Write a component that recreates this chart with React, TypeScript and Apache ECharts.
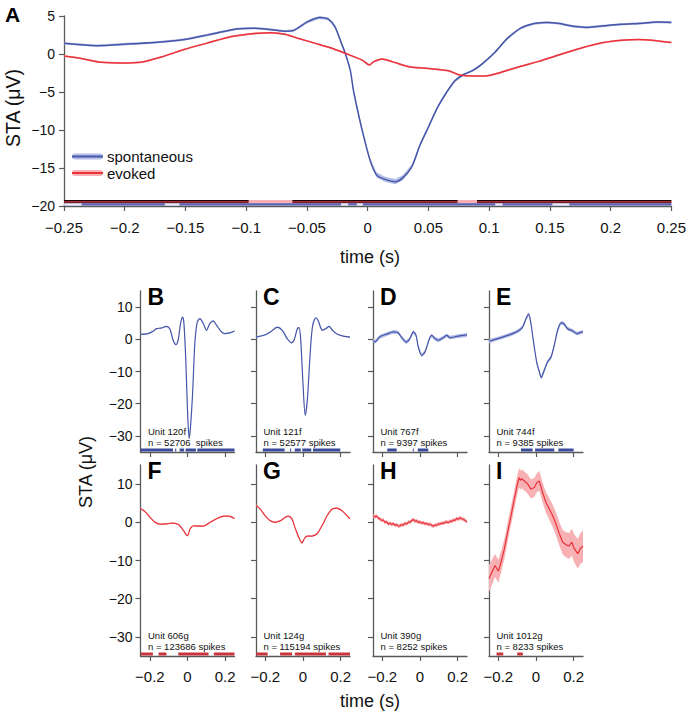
import React, { useEffect, useRef } from 'react';
import * as echarts from 'echarts';

// ---------- data (t in s, STA in µV, sem in µV) ----------
const SPONT_A = [
  [-0.25, 1.4, 0.15], [-0.223, 1.1, 0.15], [-0.194, 1.35, 0.15], [-0.176, 1.5, 0.15], [-0.151, 1.9, 0.15],
  [-0.129, 2.6, 0.15], [-0.108, 3.3, 0.15], [-0.0935, 3.4, 0.15], [-0.079, 3.2, 0.15], [-0.068, 3.0, 0.15],
  [-0.061, 3.1, 0.15], [-0.05, 4.2, 0.2], [-0.0396, 4.8, 0.2], [-0.0324, 4.6, 0.2], [-0.027, 3.6, 0.2],
  [-0.0216, 1.4, 0.2], [-0.0185, 0.1, 0.2], [-0.0144, -2.1, 0.2], [-0.0115, -5.0, 0.25], [-0.0046, -10.0, 0.25],
  [0.0018, -13.9, 0.3], [0.0072, -15.9, 0.35], [0.0144, -16.5, 0.35], [0.0227, -16.8, 0.35], [0.0288, -16.3, 0.35],
  [0.0364, -14.8, 0.3], [0.043, -12.0, 0.25], [0.05, -9.6, 0.25], [0.0576, -7.0, 0.2], [0.0647, -5.1, 0.2],
  [0.072, -3.5, 0.2], [0.079, -2.7, 0.15], [0.0863, -2.2, 0.15], [0.0935, -1.4, 0.15], [0.104, 0.1, 0.15],
  [0.115, 2.05, 0.15], [0.126, 3.4, 0.15], [0.137, 4.0, 0.15], [0.1475, 4.15, 0.15], [0.158, 4.0, 0.15],
  [0.169, 3.65, 0.15], [0.18, 3.5, 0.15], [0.1906, 3.65, 0.15], [0.2086, 3.9, 0.15], [0.2266, 4.05, 0.15],
  [0.2374, 4.2, 0.15], [0.25, 4.15, 0.15],
];
const EVOKED_A = [
  [-0.25, -0.25, 0.12], [-0.237, -0.55, 0.12], [-0.219, -1.1, 0.12], [-0.201, -1.2, 0.12], [-0.187, -1.1, 0.12],
  [-0.169, -0.35, 0.12], [-0.151, 0.6, 0.12], [-0.133, 1.4, 0.12], [-0.112, 2.3, 0.12], [-0.0935, 2.7, 0.12],
  [-0.079, 2.8, 0.12], [-0.068, 2.6, 0.12], [-0.057, 2.05, 0.12], [-0.043, 1.4, 0.12], [-0.032, 0.88, 0.12],
  [-0.0185, 0.09, 0.12], [-0.0046, -0.8, 0.12], [0.0014, -1.45, 0.12], [0.005, -1.0, 0.12], [0.0118, -0.66, 0.12],
  [0.02, -1.0, 0.12], [0.0336, -1.67, 0.12], [0.05, -1.9, 0.12], [0.0665, -2.2, 0.12], [0.0755, -2.75, 0.12],
  [0.0863, -2.9, 0.12], [0.097, -2.9, 0.12], [0.108, -2.5, 0.12], [0.122, -1.8, 0.12], [0.14, -1.0, 0.12],
  [0.158, -0.1, 0.12], [0.176, 0.8, 0.12], [0.194, 1.5, 0.12], [0.2086, 1.8, 0.12], [0.223, 1.9, 0.12],
  [0.237, 1.75, 0.12], [0.25, 1.5, 0.12],
];
// significance segments of panel A
const SPONT_SIG_A = [[-0.2355, -0.167], [-0.155, -0.022], [-0.016, -0.009], [-0.004, 0.105], [0.111, 0.152], [0.166, 0.25]];
const EVOKED_SIG_A = [[-0.25, -0.098], [-0.062, 0.074], [0.09, 0.25]];

const STA_B = [
  [-0.25, 1.55, 0.2], [-0.21, 1.75, 0.2], [-0.183, 2.5, 0.2], [-0.165, 3.3, 0.2], [-0.139, 3.5, 0.2], [-0.112, 4.0, 0.2],
  [-0.094, 3.3, 0.2], [-0.0765, -0.3, 0.2], [-0.062, -1.65, 0.2], [-0.05, -0.3, 0.2], [-0.037, 4.9, 0.2], [-0.027, 6.9, 0.2],
  [-0.0196, 5.4, 0.2], [-0.009, -6.5, 0.2], [0, -22, 0.2], [0.009, -30.8, 0.2], [0.016, -27.2, 0.2], [0.027, -16.9, 0.2],
  [0.039, -1.3, 0.2], [0.052, 5.4, 0.2], [0.066, 6.4, 0.2], [0.084, 4.9, 0.2], [0.101, 2.8, 0.2], [0.119, 4.9, 0.2],
  [0.137, 5.7, 0.2], [0.155, 4.3, 0.2], [0.181, 2.3, 0.2], [0.199, 1.75, 0.2], [0.226, 2.0, 0.2], [0.25, 2.6, 0.2],
];
const STA_C = [
  [-0.25, 0.7, 0.2], [-0.208, 1.25, 0.2], [-0.173, 2.3, 0.2], [-0.137, 3.8, 0.2], [-0.11, 2.8, 0.2], [-0.084, 0.2, 0.2],
  [-0.062, -1.1, 0.2], [-0.048, -0.3, 0.2], [-0.03, 3.3, 0.2], [-0.021, 3.6, 0.2], [-0.012, -0.3, 0.2], [0, -13.8, 0.2],
  [0.012, -23.6, 0.2], [0.023, -18.9, 0.2], [0.036, -6.5, 0.2], [0.05, 3.8, 0.2], [0.068, 6.7, 0.2], [0.08, 5.9, 0.2],
  [0.103, 2.8, 0.2], [0.121, 3.3, 0.2], [0.139, 4.0, 0.2], [0.157, 2.8, 0.2], [0.183, 1.55, 0.2], [0.219, 0.9, 0.2],
  [0.25, 0.7, 0.2],
];
const STA_D = [
  [-0.25, -0.3, 0.6], [-0.24, -0.8, 0.6], [-0.213, 0.8, 0.6], [-0.177, 1.6, 0.6], [-0.142, 2.3, 0.6], [-0.124, 2.2, 0.6],
  [-0.115, 2.0, 0.6], [-0.097, 0.5, 0.6], [-0.074, -0.9, 0.6], [-0.057, -0.1, 0.6], [-0.035, 2.3, 0.6], [-0.021, 1.2, 0.6],
  [-0.009, -2.4, 0.6], [0.009, -5.0, 0.6], [0.027, -3.9, 0.6], [0.05, 0.2, 0.6], [0.062, 1.2, 0.6], [0.08, 0.2, 0.6],
  [0.097, -0.3, 0.6], [0.124, 0.5, 0.6], [0.142, 1.2, 0.6], [0.16, 0.5, 0.6], [0.195, 0.9, 0.6], [0.25, 1.35, 0.6],
];
const STA_E = [
  [-0.25, -0.6, 0.6], [-0.222, -0.1, 0.6], [-0.186, 0.5, 0.6], [-0.151, 1.2, 0.6], [-0.115, 2.0, 0.6], [-0.089, 2.8, 0.6],
  [-0.071, 3.8, 0.6], [-0.053, 6.4, 0.6], [-0.039, 7.8, 0.6], [-0.027, 4.9, 0.6], [-0.012, -1.3, 0.6], [0.005, -7.5, 0.6],
  [0.018, -10.1, 0.6], [0.028, -11.9, 0.6], [0.044, -9.6, 0.6], [0.062, -7.0, 0.6], [0.08, -5.5, 0.6], [0.097, -1.9, 0.6],
  [0.115, 2.8, 0.6], [0.133, 5.1, 0.6], [0.147, 4.9, 0.6], [0.168, 3.3, 0.6], [0.195, 2.6, 0.6], [0.218, 1.75, 0.6],
  [0.23, 2.0, 0.6], [0.25, 2.3, 0.6],
];
const STA_F = [
  [-0.25, 3.6, 0.2], [-0.226, 2.8, 0.2], [-0.199, 1.3, 0.2], [-0.173, 0, 0.2], [-0.146, -0.5, 0.2], [-0.11, -0.4, 0.2],
  [-0.075, -0.2, 0.2], [-0.048, -0.6, 0.2], [-0.025, -1.9, 0.2], [0, -3.5, 0.2], [0.014, -1.7, 0.2], [0.032, -0.9, 0.2],
  [0.059, -1.0, 0.2], [0.085, -1.0, 0.2], [0.121, 0, 0.2], [0.157, 1.0, 0.2], [0.192, 1.6, 0.2], [0.219, 1.6, 0.2],
  [0.25, 1.0, 0.2],
];
const STA_G = [
  [-0.25, 4.5, 0.2], [-0.228, 3.5, 0.2], [-0.201, 1.7, 0.2], [-0.174, 0.4, 0.2], [-0.148, 0, 0.2], [-0.121, 0.4, 0.2],
  [-0.094, 1.3, 0.2], [-0.077, 1.6, 0.2], [-0.059, 0.9, 0.2], [-0.041, -1.6, 0.2], [-0.023, -3.9, 0.2], [-0.005, -5.4, 0.2],
  [0.007, -4.3, 0.2], [0.021, -3.6, 0.2], [0.048, -3.6, 0.2], [0.075, -3.0, 0.2], [0.101, -0.9, 0.2], [0.128, 1.7, 0.2],
  [0.155, 3.5, 0.2], [0.181, 3.7, 0.2], [0.208, 3.0, 0.2], [0.25, 0.9, 0.2],
];
const STA_H = [
  [-0.25, 1.7, 0.5], [-0.24, 1.4, 0.5], [-0.232, 1.7, 0.5], [-0.222, 1.1, 0.5], [-0.213, 0.9, 0.5], [-0.205, 0.5, 0.5],
  [-0.195, 0.6, 0.5], [-0.187, 0.0, 0.5], [-0.177, 0.1, 0.5], [-0.168, -0.5, 0.5], [-0.16, -0.2, 0.5], [-0.15, -0.6, 0.5],
  [-0.142, -0.3, 0.5], [-0.133, -0.8, 0.5], [-0.124, -0.6, 0.5], [-0.115, -1.0, 0.5], [-0.106, -0.9, 0.5], [-0.097, -0.6, 0.5],
  [-0.088, -0.7, 0.5], [-0.08, -0.3, 0.5], [-0.07, -0.4, 0.5], [-0.06, 0.1, 0.5], [-0.052, 0.0, 0.5], [-0.044, 0.5, 0.5],
  [-0.035, 0.7, 0.5], [-0.027, 0.3, 0.5], [-0.018, 0.4, 0.5], [-0.009, 0.0, 0.5], [0.0, 0.1, 0.5], [0.009, -0.2, 0.5],
  [0.018, -0.1, 0.5], [0.027, -0.4, 0.5], [0.036, -0.3, 0.5], [0.045, -0.6, 0.5], [0.053, -0.5, 0.5], [0.062, -0.8, 0.5],
  [0.071, -1.0, 0.5], [0.08, -0.7, 0.5], [0.088, -0.8, 0.5], [0.097, -0.4, 0.5], [0.106, -0.5, 0.5], [0.115, -0.2, 0.5],
  [0.124, -0.3, 0.5], [0.133, 0.0, 0.5], [0.142, 0.1, 0.5], [0.15, -0.1, 0.5], [0.16, 0.3, 0.5], [0.168, 0.2, 0.5],
  [0.177, 0.6, 0.5], [0.186, 0.5, 0.5], [0.195, 1.0, 0.5], [0.204, 0.8, 0.5], [0.213, 1.2, 0.5], [0.222, 0.9, 0.5],
  [0.231, 0.8, 0.5], [0.24, 0.5, 0.5], [0.25, 0.1, 0.5],
];
const STA_I = [
  [-0.25, -14.7, 3.5], [-0.23, -12.6, 3.2], [-0.218, -11.3, 3.0], [-0.2, -12.8, 3.0], [-0.186, -10.4, 2.8], [-0.168, -6.9, 2.6],
  [-0.151, -2.6, 2.5], [-0.133, 1.7, 2.5], [-0.115, 6.1, 2.5], [-0.101, 9.5, 2.5], [-0.09, 11.7, 2.5], [-0.083, 11.0, 2.5],
  [-0.076, 11.4, 2.5], [-0.062, 10.8, 2.5], [-0.044, 10.0, 2.5], [-0.027, 8.7, 2.5], [-0.009, 9.1, 2.5], [0.005, 10.4, 2.5],
  [0.018, 10.8, 2.6], [0.035, 7.8, 2.6], [0.053, 5.2, 2.7], [0.071, 3.5, 2.8], [0.089, 1.7, 2.9], [0.106, -0.4, 3.0],
  [0.124, -3.0, 3.1], [0.142, -5.2, 3.2], [0.16, -5.9, 3.3], [0.177, -6.2, 3.4], [0.19, -5.2, 3.5], [0.204, -6.9, 3.7],
  [0.222, -8.2, 3.9], [0.236, -6.9, 4.0], [0.25, -6.2, 4.2],
];

const SIG_B = [[-0.25, -0.077], [-0.066, -0.06], [-0.042, -0.018], [-0.01, 0.045], [0.052, 0.25]];
const SIG_C = [[-0.214, -0.098], [-0.069, -0.063], [-0.044, -0.012], [-0.004, 0.044], [0.053, 0.198]];
const SIG_D = [[-0.174, -0.124], [-0.038, -0.033], [-0.012, 0.044]];
const SIG_E = [[-0.08, -0.018], [-0.005, 0.097], [0.119, 0.2]];
const SIG_F = [[-0.248, -0.184], [-0.154, -0.112], [-0.049, 0.112], [0.14, 0.25]];
const SIG_G = [[-0.248, -0.188], [-0.122, -0.058], [-0.043, 0.122], [0.136, 0.25]];
const SIG_H: number[][] = [];
const SIG_I = [[-0.21, -0.174], [-0.1, -0.07]];

const PANEL_LETTERS = ['B', 'C', 'D', 'E', 'F', 'G', 'H', 'I'];
const UNIT_LABELS = ['Unit 120f', 'Unit 121f', 'Unit 767f', 'Unit 744f', 'Unit 606g', 'Unit 124g', 'Unit 390g', 'Unit 1012g'];
const SPIKE_LABELS = [
  'n = 52706  spikes', 'n = 52577 spikes', 'n = 9397 spikes', 'n = 9385 spikes',
  'n = 123686 spikes', 'n = 115194 spikes', 'n = 8252 spikes', 'n = 8233 spikes',
];
const PANEL_DATA = [STA_B, STA_C, STA_D, STA_E, STA_F, STA_G, STA_H, STA_I];
const PANEL_SIG = [SIG_B, SIG_C, SIG_D, SIG_E, SIG_F, SIG_G, SIG_H, SIG_I];
const X_TICKS_SMALL = [-0.2, 0, 0.2];
const Y_TICKS_SMALL = [-30, -20, -10, 0, 10];

// ---------- styles ----------
const BLUE = '#4656a8';
const BLUE_BAND = '#b4bee6';
const RED = '#e8333b';
const RED_BAND = '#f7b1b4';
const SIG_BLUE = '#3b4c9c';
const SIG_RED = '#c9353c';
const AXIS = '#5a5a5a';
const FONT = '"Liberation Sans", Arial, Helvetica, sans-serif';

const fmt = (v: number) => {
  const r = Math.round(v * 1000) / 1000;
  return r < 0 ? '\u2212' + String(-r) : String(r);
};

function bandSeries(data: number[][], idx: number, color: string) {
  return {
    type: 'custom', xAxisIndex: idx, yAxisIndex: idx, silent: true, z: 1,
    data: [[data[0][0], data[0][1]]],
    renderItem: (_p: any, api: any) => {
      const up = data.map((d) => api.coord([d[0], d[1] + d[2]]));
      const lo = data.slice().reverse().map((d) => api.coord([d[0], d[1] - d[2]]));
      return { type: 'polygon', shape: { points: up.concat(lo) }, style: { fill: color } };
    },
  };
}
function lineSeries(data: number[][], idx: number, color: string, smooth: number, width: number) {
  return {
    type: 'line', xAxisIndex: idx, yAxisIndex: idx, silent: true, z: 2,
    data: data.map((d) => [d[0], d[1]]), symbol: 'none', showSymbol: false, smooth,
    lineStyle: { color, width },
  };
}
function segSeries(segs: number[][], idx: number, base: number, off: number, h: number, color: string) {
  return {
    type: 'custom', xAxisIndex: idx, yAxisIndex: idx, silent: true, z: 3,
    data: segs,
    renderItem: (_p: any, api: any) => {
      const a = api.coord([api.value(0), base]);
      const b = api.coord([api.value(1), base]);
      return { type: 'rect', shape: { x: a[0], y: a[1] - off, width: b[0] - a[0], height: h }, style: { fill: color } };
    },
  };
}

export default function App() {
  const ref = useRef<HTMLDivElement>(null);
  useEffect(() => {
    if (!ref.current) return;
    const chart = echarts.init(ref.current, null, { renderer: 'svg' });

    const lefts = [140.5, 256, 373, 489];
    const grids: any[] = [{ left: 64, top: 16, width: 609, height: 190 }];
    for (let i = 0; i < 8; i++) {
      const row = Math.floor(i / 4);
      grids.push(row === 0
        ? { left: lefts[i % 4], top: 291, width: 94, height: 161 }
        : { left: lefts[i % 4], top: 465, width: 94, height: 191 });
    }

    const axisLine = { show: true, onZero: false, lineStyle: { color: AXIS, width: 1.3 } };
    const axisTick = { show: true, length: 5, lineStyle: { color: AXIS, width: 1.2 } };
    const xLabel = { color: '#111', fontSize: 15, fontFamily: FONT };
    const yLabel = { color: '#111', fontSize: 14, fontFamily: FONT };

    const xAxes: any[] = [{
      type: 'value', gridIndex: 0, min: -0.25, max: 0.25, interval: 0.05,
      axisLine, axisTick, splitLine: { show: false },
      axisLabel: { ...xLabel, formatter: fmt, margin: 14, showMinLabel: true, showMaxLabel: true },
    }];
    const yAxes: any[] = [{
      type: 'value', gridIndex: 0, min: -20, max: 5, interval: 5,
      axisLine, axisTick, splitLine: { show: false },
      axisLabel: { ...yLabel, formatter: fmt, margin: 9, showMinLabel: true, showMaxLabel: true },
    }];
    for (let i = 0; i < 8; i++) {
      const row = Math.floor(i / 4);
      xAxes.push({
        type: 'value', gridIndex: i + 1, min: -0.25, max: 0.25,
        axisLine, splitLine: { show: false },
        axisTick: { ...axisTick, customValues: X_TICKS_SMALL },
        axisLabel: { ...xLabel, show: row === 1, formatter: fmt, margin: 13, customValues: X_TICKS_SMALL },
      });
      yAxes.push({
        type: 'value', gridIndex: i + 1, min: -35, max: 15,
        axisLine, splitLine: { show: false },
        axisTick: { ...axisTick, customValues: Y_TICKS_SMALL },
        axisLabel: { ...yLabel, show: i % 4 === 0, formatter: fmt, margin: 8, customValues: Y_TICKS_SMALL },
      });
    }

    const series: any[] = [
      bandSeries(SPONT_A, 0, BLUE_BAND),
      lineSeries(SPONT_A, 0, BLUE, 0.3, 1.5),
      bandSeries(EVOKED_A, 0, RED_BAND),
      lineSeries(EVOKED_A, 0, RED, 0.3, 1.5),
      segSeries([[-0.25, 0.25]], 0, -20, 6, 3, RED_BAND),
      segSeries(EVOKED_SIG_A, 0, -20, 6, 1.2, '#1a0505'),
      segSeries(EVOKED_SIG_A, 0, -20, 4.8, 2, '#8c1522'),
      segSeries([[-0.25, 0.25]], 0, -20, 2.8, 2.2, BLUE_BAND),
      segSeries([[-0.25, 0.25]], 0, -20, 2.1, 0.8, '#ffffff'),
      segSeries(SPONT_SIG_A, 0, -20, 2.8, 2.2, '#5a63ad'),
    ];
    for (let i = 0; i < 8; i++) {
      const isRed = i >= 4;
      const d = PANEL_DATA[i];
      const noisy = i === 6 || i === 7;
      series.push(bandSeries(d, i + 1, isRed ? RED_BAND : BLUE_BAND));
      series.push(lineSeries(d, i + 1, isRed ? RED : BLUE, noisy ? 0 : 0.3, 1.2));
      series.push(segSeries(PANEL_SIG[i], i + 1, -35, 3.5, 3, isRed ? SIG_RED : SIG_BLUE));
    }

    const graphic: any[] = [
      { type: 'text', x: 5, y: 14, style: { text: 'A', font: `bold 21px ${FONT}`, fill: '#000', verticalAlign: 'middle' } },
      { type: 'text', x: 13, y: 108, rotation: Math.PI / 2, style: { text: 'STA (\u03bcV)', font: `19.5px ${FONT}`, fill: '#111', align: 'center', verticalAlign: 'middle' } },
      { type: 'text', x: 370, y: 257, style: { text: 'time (s)', font: `18px ${FONT}`, fill: '#111', align: 'center', verticalAlign: 'middle' } },
      { type: 'text', x: 86, y: 472, rotation: Math.PI / 2, style: { text: 'STA (\u03bcV)', font: `18px ${FONT}`, fill: '#111', align: 'center', verticalAlign: 'middle' } },
      { type: 'text', x: 370, y: 701, style: { text: 'time (s)', font: `18px ${FONT}`, fill: '#111', align: 'center', verticalAlign: 'middle' } },
      // legend
      { type: 'rect', shape: { x: 72, y: 153.5, width: 31, height: 6, r: 3 }, style: { fill: BLUE_BAND } },
      { type: 'line', shape: { x1: 72, y1: 156.5, x2: 103, y2: 156.5 }, style: { stroke: BLUE, lineWidth: 2 } },
      { type: 'text', x: 107, y: 156.5, style: { text: 'spontaneous', font: `15px ${FONT}`, fill: '#111', verticalAlign: 'middle' } },
      { type: 'rect', shape: { x: 72, y: 170, width: 31, height: 6, r: 3 }, style: { fill: RED_BAND } },
      { type: 'line', shape: { x1: 72, y1: 173, x2: 103, y2: 173 }, style: { stroke: RED, lineWidth: 2 } },
      { type: 'text', x: 107, y: 173, style: { text: 'evoked', font: `15px ${FONT}`, fill: '#111', verticalAlign: 'middle' } },
    ];
    for (let i = 0; i < 8; i++) {
      const row = Math.floor(i / 4);
      const left = lefts[i % 4];
      const top = row === 0 ? 291 : 465;
      const bottom = row === 0 ? 452 : 656;
      graphic.push({ type: 'text', x: left + 7, y: top + 6, style: { text: PANEL_LETTERS[i], font: `bold 23px ${FONT}`, fill: '#000', verticalAlign: 'middle' } });
      graphic.push({ type: 'text', x: left + 7.5, y: bottom - 20.5, style: { text: UNIT_LABELS[i], font: `9.5px ${FONT}`, fill: '#111', verticalAlign: 'middle' } });
      graphic.push({ type: 'text', x: left + 7.5, y: bottom - 9.5, style: { text: SPIKE_LABELS[i], font: `9.5px ${FONT}`, fill: '#111', verticalAlign: 'middle' } });
    }

    chart.setOption({
      animation: false,
      textStyle: { fontFamily: FONT },
      grid: grids,
      xAxis: xAxes,
      yAxis: yAxes,
      series,
      graphic,
    });
    return () => chart.dispose();
  }, []);
  return <div ref={ref} style={{ position: 'absolute', left: 0, top: 0, width: 689, height: 716, background: '#fff' }} />;
}
